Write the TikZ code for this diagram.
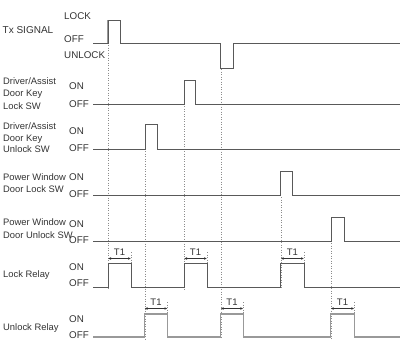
\documentclass[tikz,border=0pt]{standalone}
\usepackage{fontspec}
\setmainfont{Liberation Sans}
\usetikzlibrary{arrows.meta}
\begin{document}
\begin{tikzpicture}[x=1pt,y=-1pt,
  lbl/.style={anchor=base west,inner sep=0pt,font=\fontsize{9.4}{11}\selectfont,text=black!80},
  st/.style={anchor=base west,inner sep=0pt,font=\fontsize{9.8}{11}\selectfont,text=black!80},
  sig/.style={draw=black!65,line width=0.7pt},
  sigb/.style={draw=black!40,line width=1.3pt},
  guide/.style={draw=black!45,line width=0.4pt,dash pattern=on 1pt off 1.5pt},
  dim/.style={draw=black!80,line width=0.5pt,{Latex[length=3pt,width=2.6pt]}-{Latex[length=3pt,width=2.6pt]}},
  tt/.style={anchor=base,inner sep=0pt,font=\fontsize{9.5}{11}\selectfont,text=black!80}]
\useasboundingbox (0,0) rectangle (402,354);
% labels
\node[st] (txlock) at (64,19) {LOCK};
\node[lbl,font=\fontsize{10}{11}\selectfont] (tx) at (2.5,33) {Tx SIGNAL};
\node[st] (txoff) at (64,42) {OFF};
\node[st] (txunlock) at (64,58) {UNLOCK};
\node[lbl] (a1) at (3,84.5) {Driver/Assist};
\node[lbl] (a2) at (3,96.5) {Door Key};
\node[lbl] (a3) at (3,109) {Lock SW};
\node[st] (aon) at (69,89) {ON};
\node[st] (aoff) at (69,107) {OFF};
\node[lbl] (b1) at (3,129) {Driver/Assist};
\node[lbl] (b2) at (3,141) {Door Key};
\node[lbl] (b3) at (3,152.5) {Unlock SW};
\node[st] (bon) at (69,134) {ON};
\node[st] (boff) at (69,151.5) {OFF};
\node[lbl] (c1) at (3,180) {Power Window};
\node[lbl] (c2) at (3,192) {Door Lock SW};
\node[st] (con) at (69,180) {ON};
\node[st] (coff) at (69,197.5) {OFF};
\node[lbl] (d1) at (3,225) {Power Window};
\node[lbl] (d2) at (3,238) {Door Unlock SW};
\node[st] (don) at (69,227) {ON};
\node[st] (doff) at (69,243) {OFF};
\node[lbl] (e1) at (3,277) {Lock Relay};
\node[st] (eon) at (69,270) {ON};
\node[st] (eoff) at (69,286.5) {OFF};
\node[lbl] (f1) at (3,330) {Unlock Relay};
\node[st] (fon) at (69,322) {ON};
\node[st] (foff) at (69,338) {OFF};
% guide lines
\draw[guide] (108,45) -- (108,289);
\draw[guide] (145,151) -- (145,339);
\draw[guide] (184,106) -- (184,289);
\draw[guide] (220.7,69) -- (220.7,339);
\draw[guide] (280.7,197) -- (280.7,289);
\draw[guide] (331,243) -- (331,339);
\draw[guide] (131,252) -- (131,263);
\draw[guide] (207,252) -- (207,263);
\draw[guide] (304,252) -- (304,263);
\draw[guide] (167.5,302) -- (167.5,313.5);
\draw[guide] (243.3,302) -- (243.3,313.5);
\draw[guide] (354.3,302) -- (354.3,313.5);
% signals
\draw[sigb] (108,43) -- (108,20);
\draw[sig] (93,43) -- (108,43) -- (108,20) -- (120,20) -- (120,43) -- (220.5,43) -- (220.5,68) -- (233,68) -- (233,43) -- (400,43);
\draw[sig] (93,104) -- (184,104) -- (184,80) -- (195,80) -- (195,104) -- (400,104);
\draw[sig] (93,149) -- (145,149) -- (145,124) -- (157,124) -- (157,149) -- (400,149);
\draw[sig] (93,195) -- (280.5,195) -- (280.5,171.5) -- (292,171.5) -- (292,195) -- (400,195);
\draw[sig] (93,241) -- (331,241) -- (331,217.5) -- (344,217.5) -- (344,241) -- (400,241);
\draw[sig] (93,287) -- (108,287) -- (108,263.5) -- (131,263.5) -- (131,287) -- (184,287) -- (184,263.5) -- (207,263.5) -- (207,287) -- (280.7,287) -- (280.7,263.5) -- (304,263.5) -- (304,287) -- (400,287);
\draw[sigb] (93,337) -- (144.5,337) -- (144.5,314) -- (167.5,314) -- (167.5,337) -- (220.7,337) -- (220.7,314) -- (243.3,314) -- (243.3,337) -- (330.7,337) -- (330.7,314) -- (354.3,314) -- (354.3,337) -- (400,337);
% T1 dimensions
\draw[dim] (108,258.5) -- (131,258.5);
\node[tt] (t1a) at (119.5,255) {T1};
\draw[dim] (184,258.5) -- (207,258.5);
\node[tt] (t1b) at (195.5,255) {T1};
\draw[dim] (280.7,258.5) -- (304,258.5);
\node[tt] (t1c) at (292.3,255) {T1};
\draw[dim] (144.5,308.5) -- (167.5,308.5);
\node[tt] (t1d) at (156,305) {T1};
\draw[dim] (220.7,308.5) -- (243.3,308.5);
\node[tt] (t1e) at (232,305) {T1};
\draw[dim] (330.7,308.5) -- (354.3,308.5);
\node[tt] (t1f) at (342.5,305) {T1};
\end{tikzpicture}
\end{document}
